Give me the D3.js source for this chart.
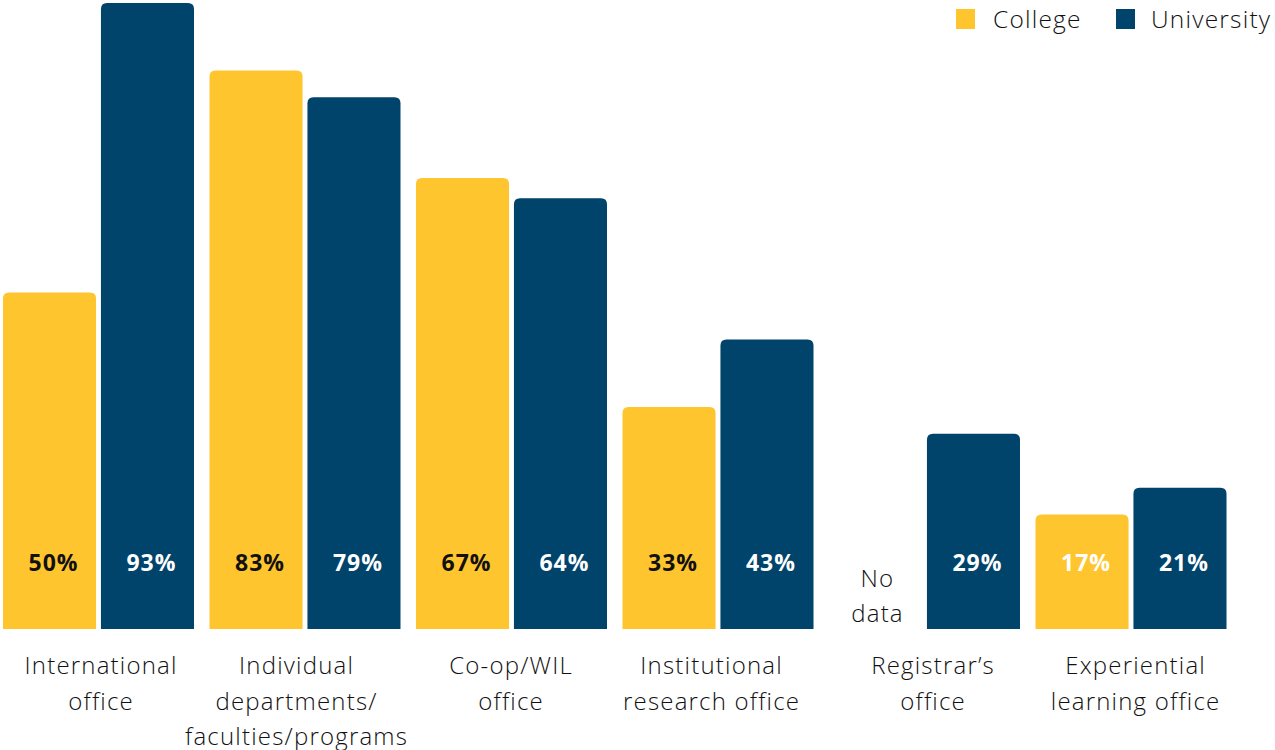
<!DOCTYPE html>
<html><head><meta charset="utf-8">
<script src="https://cdn.jsdelivr.net/npm/d3@7"></script>
<style>body{margin:0;background:#fff}svg{display:block}</style>
</head><body><svg id="c" width="1275" height="750"></svg>
<script>
const categories = [["International","office"],["Individual","departments/","faculties/programs"],["Co-op/WIL","office"],["Institutional","research office"],["Registrar’s","office"],["Experiential","learning office"]];
const seriesNames = ["College","University"];
const college = [50,83,67,33,null,17];
const university = [93,79,64,43,29,21];
const colors = {College:"#FFC52E", University:"#00436B"};
const labelColorsCollege = ["#111","#111","#111","#111","#111","#fff"];
const labelDx = [2,-9,-1,-7,8,4];

const svg = d3.select("#c");
const font = "'Open Sans', sans-serif";
const baseY = 629;
const ids = categories.map((d,i)=>i);
const x0 = d3.scaleBand().domain(ids).range([-4.75,1234.25]).paddingInner(0.075).paddingOuter(0.0375);
const x1 = d3.scaleBand().domain(seriesNames).range([0,x0.bandwidth()]).paddingInner(0.05);
const y = d3.scaleLinear().domain([0,100]).range([baseY, baseY-673]);

function topRounded(x,yTop,w,h,r){
  r=Math.min(r,h,w/2);
  return `M${x},${yTop+h}V${yTop+r}Q${x},${yTop} ${x+r},${yTop}H${x+w-r}Q${x+w},${yTop} ${x+w},${yTop+r}V${yTop+h}Z`;
}
const rows=[];
ids.forEach(i=>{
  rows.push({i,s:"College",v:college[i],lc:labelColorsCollege[i]});
  rows.push({i,s:"University",v:university[i],lc:"#fff"});
});
const g=svg.append("g");
rows.filter(d=>d.v!=null).forEach(d=>{
  const bx=x0(d.i)+x1(d.s), bw=x1.bandwidth(), yt=y(d.v);
  g.append("path").attr("d",topRounded(bx,yt,bw,baseY-yt,6)).attr("fill",colors[d.s]);
  g.append("text").attr("x",bx+bw/2+4).attr("y",562).attr("text-anchor","middle")
   .attr("dominant-baseline","central").attr("font-family",font).attr("font-weight",700)
   .attr("font-size",23).attr("letter-spacing",1).attr("fill",d.lc).text(d.v+"%");
});
rows.filter(d=>d.v==null).forEach(d=>{
  const cx=x0(d.i)+x1(d.s)+x1.bandwidth()/2;
  const t=g.append("text").attr("text-anchor","middle").attr("font-family",font).attr("font-weight",300).attr("font-size",24).attr("letter-spacing",1.2).attr("fill","#111");
  ["No","data"].forEach((s,k)=>t.append("tspan").attr("x",cx+2).attr("y",577+k*35).attr("dominant-baseline","central").text(s));
});
ids.forEach(i=>{
  const cx=x0(i)+x0.bandwidth()/2+labelDx[i]+0.6;
  const t=svg.append("text").attr("text-anchor","middle").attr("font-family",font).attr("font-weight",300).attr("font-size",24).attr("letter-spacing",1.2).attr("fill","#111");
  categories[i].forEach((s,k)=>t.append("tspan").attr("x",cx).attr("y",664+k*36 - (k===2?1:0)).attr("dominant-baseline","central").text(s));
});
const leg=[{s:"College",x:956,tx:993},{s:"University",x:1116,tx:1151}];
leg.forEach(l=>{
  svg.append("rect").attr("x",l.x).attr("y",9).attr("width",19).attr("height",20).attr("fill",colors[l.s]);
  svg.append("text").attr("x",l.tx).attr("y",18).attr("dominant-baseline","central").attr("font-family",font).attr("font-weight",300).attr("font-size",24.5).attr("letter-spacing",1.2).attr("fill","#111").text(l.s);
});
</script></body></html>
